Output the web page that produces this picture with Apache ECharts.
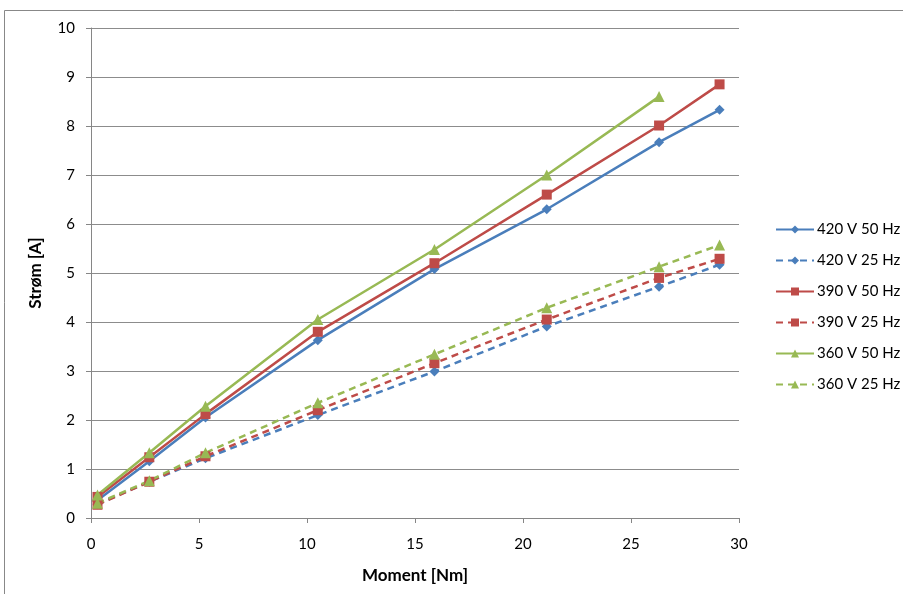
<!DOCTYPE html>
<html><head><meta charset="utf-8">
<script src="https://cdn.jsdelivr.net/npm/echarts@6/dist/echarts.min.js"></script>
<style>html,body{margin:0;padding:0;background:#fff}#c{width:903px;height:594px}</style>
</head><body><div id="c"></div>
<script>
const xTorque = [0.3, 2.7, 5.3, 10.5, 15.9, 21.1, 26.3, 29.1];
const xTorque360 = [0.3, 2.7, 5.3, 10.5, 15.9, 21.1, 26.3];
const s420_50 = [0.36, 1.16, 2.05, 3.63, 5.08, 6.3, 7.67, 8.33];
const s420_25 = [0.28, 0.74, 1.22, 2.1, 2.99, 3.91, 4.72, 5.17];
const s390_50 = [0.43, 1.24, 2.12, 3.8, 5.2, 6.6, 8.01, 8.85];
const s390_25 = [0.27, 0.74, 1.26, 2.2, 3.16, 4.05, 4.9, 5.29];
const s360_50 = [0.47, 1.33, 2.28, 4.05, 5.48, 7.0, 8.6];
const s360_25 = [0.3, 0.76, 1.33, 2.35, 3.34, 4.29, 5.13, 5.57];
const names = ['420 V 50 Hz','420 V 25 Hz','390 V 50 Hz','390 V 25 Hz','360 V 50 Hz','360 V 25 Hz'];
const yTicks = [0,1,2,3,4,5,6,7,8,9,10];
const xTicks = [0,5,10,15,20,25,30];

const BLUE='#4A7EBB', RED='#BE4B48', GREEN='#98B954';
const FONT='Lato, "Liberation Sans", sans-serif';
function pairs(xs, ys){ return ys.map((v,i)=>[xs[i], v]); }
function mk(name, xs, ys, color, symbol, size, dashed){
  return {
    name, type:'line', data: pairs(xs, ys), symbol, symbolSize:size,
    lineStyle:{color, width:2.5, type: dashed ? [7,5] : 'solid'},
    itemStyle:{color}, showSymbol:true, smooth:false, animation:false
  };
}
const chart = echarts.init(document.getElementById('c'), null, {renderer:'canvas'});
chart.setOption({
  animation:false,
  backgroundColor:'#fff',
  graphic:[{type:'rect', shape:{x:4.5,y:10.5,width:1000,height:1000}, style:{fill:'none', stroke:'#888', lineWidth:1}, z:-10}],
  grid:{left:91, right:164, top:28, bottom:76, containLabel:false},
  xAxis:{type:'value', min:0, max:30, interval:5,
    name:'Moment [Nm]', nameLocation:'middle', nameGap:49,
    nameTextStyle:{fontFamily:FONT, fontWeight:'bold', fontSize:17, color:'#000'},
    axisLine:{show:true, onZero:false, lineStyle:{color:'#868686', width:1}},
    axisTick:{show:true, length:5, lineStyle:{color:'#868686'}},
    axisLabel:{fontFamily:FONT, fontSize:15, color:'#000', margin:19},
    splitLine:{show:false}},
  yAxis:{type:'value', min:0, max:10, interval:1,
    name:'Strøm [A]', nameLocation:'middle', nameGap:47,
    nameTextStyle:{fontFamily:FONT, fontWeight:'bold', fontSize:17, color:'#000'},
    axisLine:{show:true, lineStyle:{color:'#868686', width:1}},
    axisTick:{show:true, length:5, lineStyle:{color:'#868686'}},
    axisLabel:{fontFamily:FONT, fontSize:15, color:'#000', margin:16},
    splitLine:{show:true, lineStyle:{color:'#8c8c8c', width:1}}},
  legend:{orient:'vertical', left:770, top:217, itemGap:16, itemWidth:38, itemHeight:10,
    textStyle:{fontFamily:FONT, fontSize:15, color:'#000', padding:[0,0,0,-2]},
    data:names},
  series:[
    mk(names[0], xTorque, s420_50, BLUE, 'diamond', 10, false),
    mk(names[1], xTorque, s420_25, BLUE, 'diamond', 10, true),
    mk(names[2], xTorque, s390_50, RED, 'rect', 10, false),
    mk(names[3], xTorque, s390_25, RED, 'rect', 10, true),
    mk(names[4], xTorque360, s360_50, GREEN, 'triangle', 11, false),
    mk(names[5], xTorque, s360_25, GREEN, 'triangle', 11, true)
  ]
});
</script></body></html>
